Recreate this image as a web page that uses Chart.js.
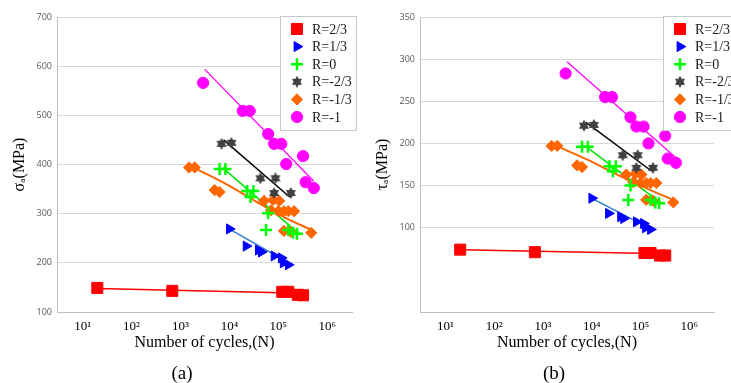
<!DOCTYPE html>
<html>
<head>
<meta charset="utf-8">
<script src="https://cdn.jsdelivr.net/npm/chart.js@4.4.1/dist/chart.umd.min.js"></script>
<style>
    body { margin: 0; width: 731px; height: 383px; overflow: hidden; background: #fff; position: relative; }
    .panel { position: absolute; top: 0; width: 370px; height: 383px; }
    .caption { position: absolute; top: 363px; transform: translateX(-50%); font-family: 'Liberation Serif', 'Times New Roman', serif; font-size: 19px; line-height: 20px; color: #000; }
</style>
</head>
<body>
<div class="panel" style="left:0"><canvas id="chartA"></canvas></div>
<div class="panel" style="left:370px"><canvas id="chartB"></canvas></div>
<div class="caption" style="left:182px">(a)</div>
<div class="caption" style="left:554px">(b)</div>
<script>
// Data: N cycles, sigma_a (a) and tau_a (b) in MPa
const seriesLabels = ['R=2/3', 'R=1/3', 'R=0', 'R=-2/3', 'R=-1/3', 'R=-1'];

const cyclesR23 = [20, 680, 1.2e5, 1.6e5, 2.5e5, 3.2e5];
const sigmaR23 = [149, 143, 141, 141, 135, 134];
const tauR23 = [74, 71, 70, 70, 67, 67];

const cyclesR13 = [1.0e4, 2.2e4, 3.9e4, 4.5e4, 8.2e4, 1.15e5, 1.26e5, 1.6e5];
const sigmaR13 = [269, 234, 226, 222, 214, 210, 200, 196];
const tauR13 = [135, 117, 113, 111, 107, 105, 100, 98];

const cyclesR0 = [6.3e3, 8.3e3, 2.3e4, 3.1e4, 2.7e4, 6.2e4, 5.6e4, 1.6e5, 2.0e5, 2.4e5];
const sigmaR0 = [391, 391, 346, 346, 334, 301, 267, 267, 261, 259];
const tauR0 = [196, 196, 173, 173, 167, 150, 133, 133, 130, 129];

const cyclesRm23 = [6.9e3, 1.1e4, 4.3e4, 8.7e4, 8.2e4, 1.8e5];
const sigmaRm23 = [442, 444, 372, 372, 342, 342];
const tauRm23 = [221, 222, 186, 186, 171, 171];

const cyclesRm13 = [1.5e3, 1.95e3, 5.0e3, 6.3e3, 5.1e4, 7.8e4, 1.04e5, 7.1e4, 1.0e5, 1.3e5, 1.6e5, 2.1e5, 1.3e5, 1.8e5, 4.7e5];
const sigmaRm13 = [394, 394, 348, 344, 326, 328, 326, 307, 305, 305, 305, 305, 265, 263, 261];
const tauRm13 = [197, 197, 174, 172, 163, 164, 163, 154, 153, 153, 153, 153, 133, 132, 130];

const cyclesRm1 = [2.9e3, 1.87e4, 2.6e4, 6.2e4, 8.2e4, 1.15e5, 1.45e5, 3.2e5, 3.6e5, 5.3e5];
const sigmaRm1 = [566, 509, 509, 462, 442, 442, 401, 417, 364, 352];
const tauRm1 = [283, 255, 255, 231, 220, 220, 200, 209, 182, 177];

// Fitted curves
const fitCyclesR23 = [20, 3.2e5];
const fitSigmaR23 = [148, 138];
const fitTauR23 = [74, 69];

const fitCyclesR13 = [1.07e4, 1.7e5];
const fitSigmaR13 = [267, 199];
const fitTauR13 = [134, 98];

const fitCyclesR0 = [7.3e3, 2.8e5];
const fitSigmaR0 = [393, 257];
const fitTauR0 = [197, 128];

const fitCyclesRm23 = [7.6e3, 1.7e5];
const fitSigmaRm23 = [450, 334];
const fitTauRm23 = [225, 167];

const fitCyclesRm13 = [1.9e3, 7.9e3, 3.9e4, 1.3e5, 4.7e5];
const fitSigmaRm13 = [393, 362, 322, 293, 267];
const fitTauRm13 = [197, 181, 161, 147, 133];

const fitCyclesRm1 = [3.1e3, 5.3e5];
const fitSigmaRm1 = [594, 366];
const fitTauRm1 = [297, 183];

const xTickPowers = [1, 2, 3, 4, 5, 6];
const superscripts = ['\u2070', '\u00B9', '\u00B2', '\u00B3', '\u2074', '\u2075', '\u2076'];

const SERIF = "'Liberation Serif', 'Times New Roman', serif";

function makeHexagram(size, color) {
    const c = document.createElement('canvas');
    c.width = size;
    c.height = size;
    const g = c.getContext('2d');
    const r = size / 2;
    g.fillStyle = color;
    [-90, 90].forEach(function(start) {
        g.beginPath();
        for (let k = 0; k < 3; k++) {
            const a = (start + k * 120) * Math.PI / 180;
            const px = r + Math.cos(a) * r * 0.98;
            const py = r + Math.sin(a) * r * 0.98;
            if (k === 0) g.moveTo(px, py); else g.lineTo(px, py);
        }
        g.closePath();
        g.fill();
    });
    return c;
}

const markerStyles = [
    { color: '#FF0000', pointStyle: 'rect', pointRadius: 7.8, borderWidth: 1, rotation: 0 },
    { color: '#0000FF', pointStyle: 'triangle', pointRadius: 5.8, borderWidth: 1, rotation: 90 },
    { color: '#00FF00', pointStyle: 'cross', pointRadius: 6, borderWidth: 2.5, rotation: 0 },
    { color: '#404040', pointStyle: makeHexagram(12, '#404040'), pointRadius: 6, borderWidth: 0, rotation: 0 },
    { color: '#FF6600', pointStyle: 'rectRot', pointRadius: 5.6, borderWidth: 1, rotation: 0 },
    { color: '#FF00FF', pointStyle: 'circle', pointRadius: 5.6, borderWidth: 1, rotation: 0 }
];
const lineStyles = [
    { color: '#FF0000', width: 1.5 },
    { color: '#2E7BD0', width: 1.5 },
    { color: '#00E000', width: 1.5 },
    { color: '#000000', width: 1.5 },
    { color: '#FF6600', width: 2 },
    { color: '#FF00FF', width: 1.3 }
];

function toPoints(xs, ys) {
    return xs.map(function(x, i) { return { x: x, y: ys[i] }; });
}

function buildDatasets(points, fits) {
    const sets = [];
    points.forEach(function(p, i) {
        const m = markerStyles[i];
        sets.push({
            label: seriesLabels[i],
            data: toPoints(p[0], p[1]),
            pointStyle: m.pointStyle,
            pointRadius: m.pointRadius,
            pointRotation: m.rotation,
            pointBorderWidth: m.borderWidth,
            backgroundColor: m.color,
            borderColor: m.color,
            showLine: false
        });
    });
    fits.forEach(function(f, i) {
        const l = lineStyles[i];
        sets.push({
            data: toPoints(f[0], f[1]),
            showLine: true,
            pointRadius: 0,
            borderColor: l.color,
            borderWidth: l.width,
            tension: f[0].length > 2 ? 0.4 : 0,
            fill: false
        });
    });
    return sets;
}

// Boxed legend that overlaps the plot, as in the figure
const boxLegend = {
    id: 'boxLegend',
    afterDraw(chart, args, opts) {
        const ctx = chart.ctx;
        ctx.save();
        ctx.fillStyle = '#ffffff';
        ctx.fillRect(opts.left, opts.top, opts.width, opts.height);
        ctx.strokeStyle = '#c8c8c8';
        ctx.lineWidth = 1;
        ctx.strokeRect(opts.left + 0.5, opts.top + 0.5, opts.width, opts.height);
        ctx.font = '14px ' + SERIF;
        ctx.textBaseline = 'middle';
        ctx.textAlign = 'left';
        seriesLabels.forEach(function(label, i) {
            const m = markerStyles[i];
            const y = opts.top + 13 + i * 17.6;
            ctx.fillStyle = m.color;
            ctx.strokeStyle = m.color;
            ctx.lineWidth = m.borderWidth;
            Chart.helpers.drawPoint(ctx, {
                pointStyle: m.pointStyle,
                rotation: m.rotation,
                radius: m.pointRadius,
                borderWidth: m.borderWidth
            }, opts.left + 17, y);
            ctx.fillStyle = '#1a1a1a';
            ctx.fillText(label, opts.left + 32, y + 1);
        });
        ctx.restore();
    }
};

function makeChart(canvasId, datasets, yOpts, pad, legendLeft) {
    return new Chart(document.getElementById(canvasId), {
        type: 'scatter',
        data: { datasets: datasets },
        plugins: [boxLegend],
        options: {
            responsive: true,
            maintainAspectRatio: false,
            animation: false,
            layout: { padding: pad },
            plugins: {
                legend: { display: false },
                tooltip: { enabled: false },
                boxLegend: { left: legendLeft, top: 16, width: 76, height: 114 }
            },
            scales: {
                x: {
                    type: 'logarithmic',
                    min: 3,
                    max: 3.2e6,
                    afterFit: function(scale) { scale.height = 43; },
                    border: { color: '#bfbfbf' },
                    grid: { display: false, drawTicks: false },
                    ticks: {
                        autoSkip: false,
                        maxRotation: 0,
                        padding: 7,
                        color: '#000',
                        font: { family: SERIF, size: 13 },
                        callback: function(value) {
                            const e = Math.round(Math.log10(value));
                            if (Math.abs(Math.log10(value) - e) > 1e-9) return null;
                            if (xTickPowers.indexOf(e) < 0) return null;
                            return '10' + superscripts[e];
                        }
                    },
                    title: {
                        display: true,
                        text: 'Number of cycles,(N)',
                        color: '#000',
                        font: { family: SERIF, size: 16 },
                        padding: { top: 0, bottom: 2.4 }
                    }
                },
                y: yOpts
            }
        }
    });
}

function yAxis(min, max, step, minLabel, titleText) {
    return {
        min: min,
        max: max,
        afterFit: function(scale) { scale.width = 47; },
        border: { color: '#bfbfbf' },
        grid: {
            drawTicks: false,
            color: function(c) { return c.tick && c.tick.value >= minLabel ? '#d9d9d9' : 'rgba(0,0,0,0)'; }
        },
        ticks: {
            stepSize: step,
            padding: 5,
            color: '#595959',
            font: { family: "'Open Sans', sans-serif", size: 9 },
            callback: function(v) { return v >= minLabel ? v : ''; }
        },
        title: {
            display: true,
            text: titleText,
            color: '#000',
            font: { family: SERIF, size: 16 },
            padding: 0
        }
    };
}

const sigmaPoints = [[cyclesR23, sigmaR23], [cyclesR13, sigmaR13], [cyclesR0, sigmaR0], [cyclesRm23, sigmaRm23], [cyclesRm13, sigmaRm13], [cyclesRm1, sigmaRm1]];
const sigmaFits = [[fitCyclesR23, fitSigmaR23], [fitCyclesR13, fitSigmaR13], [fitCyclesR0, fitSigmaR0], [fitCyclesRm23, fitSigmaRm23], [fitCyclesRm13, fitSigmaRm13], [fitCyclesRm1, fitSigmaRm1]];
const tauPoints = [[cyclesR23, tauR23], [cyclesR13, tauR13], [cyclesR0, tauR0], [cyclesRm23, tauRm23], [cyclesRm13, tauRm13], [cyclesRm1, tauRm1]];
const tauFits = [[fitCyclesR23, fitTauR23], [fitCyclesR13, fitTauR13], [fitCyclesR0, fitTauR0], [fitCyclesRm23, fitTauRm23], [fitCyclesRm13, fitTauRm13], [fitCyclesRm1, fitTauRm1]];

makeChart('chartA', buildDatasets(sigmaPoints, sigmaFits),
    yAxis(100, 700, 100, 100, 'σ\u2090(MPa)'),
    { left: 10, right: 18, top: 17, bottom: 28 }, 280);

makeChart('chartB', buildDatasets(tauPoints, tauFits),
    yAxis(0, 350, 50, 100, 'τ\u2090(MPa)'),
    { left: 3, right: 26, top: 17, bottom: 28 }, 293);
</script>
</body>
</html>
